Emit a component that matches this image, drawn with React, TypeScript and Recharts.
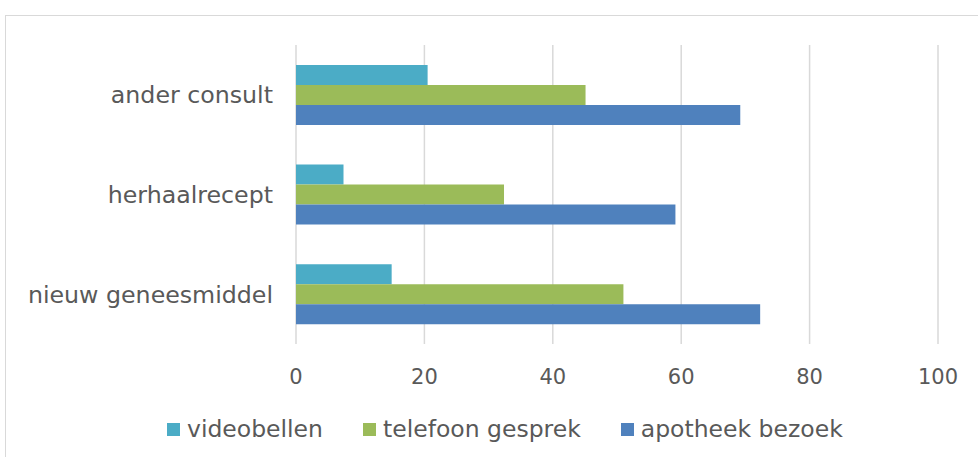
import {
  BarChart,
  Bar,
  XAxis,
  YAxis,
  CartesianGrid,
  Legend,
} from "recharts";

const categories = ["ander consult", "herhaalrecept", "nieuw geneesmiddel"];
const videobellen = [20.5, 7.4, 14.9];
const telefoonGesprek = [45.1, 32.4, 51.0];
const apotheekBezoek = [69.2, 59.1, 72.3];
const xTicks = [0, 20, 40, 60, 80, 100];

const SERIES = [
  { key: "videobellen", color: "#4BACC6" },
  { key: "telefoon gesprek", color: "#9BBB59" },
  { key: "apotheek bezoek", color: "#4F81BD" },
];

const data = categories.map((name, i) => ({
  name,
  videobellen: videobellen[i],
  "telefoon gesprek": telefoonGesprek[i],
  "apotheek bezoek": apotheekBezoek[i],
}));

const FONT = "'DejaVu Sans', Verdana, sans-serif";

function LegendBox() {
  return (
    <div
      style={{
        display: "flex",
        alignItems: "center",
        paddingLeft: 167,
        fontFamily: FONT,
        fontSize: 23.5,
        color: "#595959",
      }}
    >
      {SERIES.map((s) => (
        <div
          key={s.key}
          style={{ display: "flex", alignItems: "center", marginRight: 40 }}
        >
          <span
            style={{
              width: 13,
              height: 13,
              background: s.color,
              display: "inline-block",
              marginRight: 7,
            }}
          />
          <span>{s.key}</span>
        </div>
      ))}
    </div>
  );
}

function App() {
  return (
    <div
      style={{
        position: "absolute",
        left: 0,
        top: 0,
        width: 978,
        height: 457,
        overflow: "hidden",
        background: "#fff",
      }}
    >
      <div
        style={{
          position: "absolute",
          left: 5,
          top: 15,
          width: 1000,
          height: 500,
          border: "1px solid #d9d9d9",
        }}
      />
      <BarChart
        width={978}
        height={457}
        data={data}
        layout="vertical"
        margin={{ top: 45, right: 40, bottom: 73, left: 0 }}
        barCategoryGap="20%"
        barGap={0}
      >
        <CartesianGrid
          horizontal={false}
          stroke="#d9d9d9"
          strokeWidth={1.5}
        />
        <XAxis
          type="number"
          domain={[0, 100]}
          ticks={xTicks}
          axisLine={false}
          tickLine={false}
          tickSize={0}
          tickMargin={25}
          tick={{ fill: "#595959", fontSize: 21, fontFamily: FONT }}
          height={40}
        />
        <YAxis
          type="category"
          dataKey="name"
          width={296}
          axisLine={false}
          tickLine={false}
          tickSize={0}
          tickMargin={23}
          tick={{ fill: "#595959", fontSize: 23.7, fontFamily: FONT }}
        />
        <Legend
          verticalAlign="middle"
          content={() => <LegendBox />}
          wrapperStyle={{ top: 415, left: 0, width: 978 }}
        />
        {SERIES.map((s) => (
          <Bar
            key={s.key}
            dataKey={s.key}
            fill={s.color}
            isAnimationActive={false}
          />
        ))}
      </BarChart>
    </div>
  );
}

export default App;
